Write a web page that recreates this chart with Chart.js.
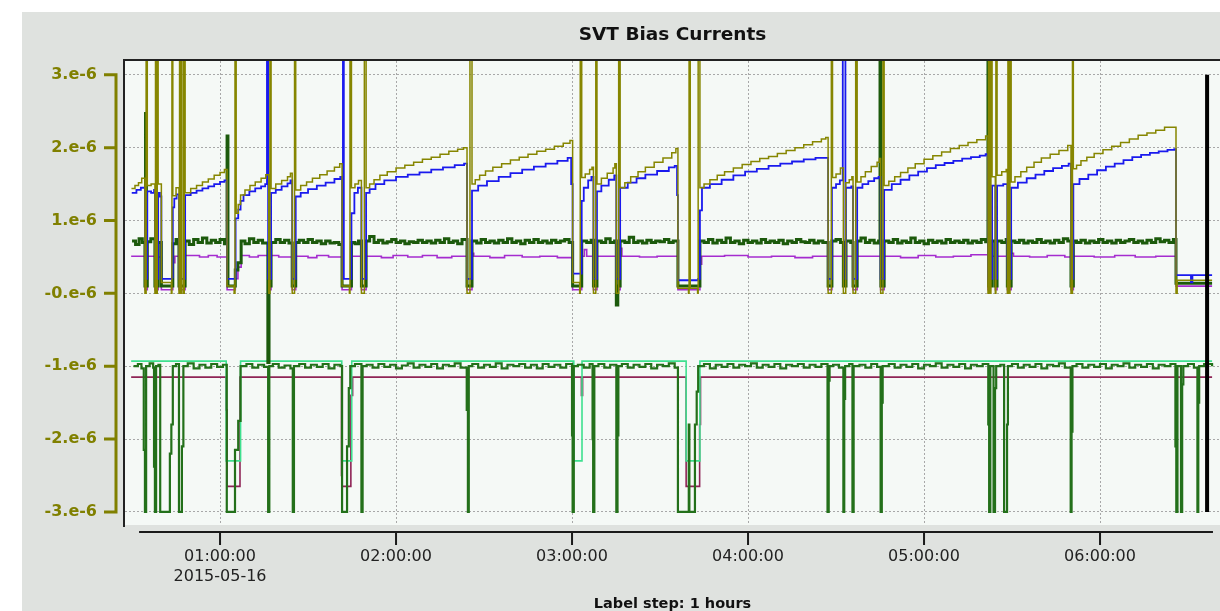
<!DOCTYPE html>
<html lang="en">
<head>
    <meta charset="UTF-8">
    <title>SVT Bias Currents</title>
    <script src="https://cdn.jsdelivr.net/npm/chart.js"></script>
    <style>
        body { margin: 0; background: #fff; }
        #panel { position: absolute; left: 22px; top: 12px; width: 1198px; height: 599px; background: #dfe2df; }
        canvas { display: block; }
    </style>
</head>
<body>
    <div id="panel"><canvas id="biasChart" width="1198" height="599"></canvas></div>

    <script>
        // time in minutes after 00:00 on 2015-05-16, current in units of 1e-6
        const xTickVals = [60, 120, 180, 240, 300, 360];
        const xTickLabels = [['01:00:00', '2015-05-16'], '02:00:00', '03:00:00', '04:00:00', '05:00:00', '06:00:00'];
        const yTickVals = [3, 2, 1, 0, -1, -2, -3];
        const yTickLabels = ['3.e-6', '2.e-6', '1.e-6', '-0.e-6', '-1.e-6', '-2.e-6', '-3.e-6'];
        const xMin = 27.6, xMax = 400.9, yMin = -3.18, yMax = 3.19;
        const xAxisFrom = 32.4, xAxisTo = 398.5;

        const oliveSeries = [
            [29.8,1.44],[31.0,1.48],[32.2,1.52],[33.3,1.58],
            [34.4,0.0],[34.8,5.0],[35.2,1.48],[36.5,1.5],
            [37.8,0.0],[38.0,5.0],[38.4,0.0],[38.6,5.0],[38.9,1.5],
            [40.0,0.15],[43.4,0.0],[43.6,5.0],[43.9,1.34],[45.0,1.45],
            [46.0,0.0],[46.2,5.0],[46.7,0.0],[46.9,5.0],[47.5,0.0],[47.8,5.0],[48.1,1.38],
            [50,1.44],[52,1.48],[54,1.53],[56,1.57],[58,1.62],[60,1.66],[61.5,1.7],
            [62.4,0.1],[64.8,0.0],[65.1,5.0],[65.5,1.1],[66.2,1.22],[67.0,1.35],[68.5,1.42],[70.2,1.48],[72.0,1.53],[74.0,1.58],[75.6,1.63],
            [76.6,0.0],[77.0,5.0],[77.4,1.44],[79,1.5],[81,1.55],[83,1.6],[84.0,1.65],
            [84.6,0.0],[85.4,5.0],[85.8,1.42],[87.5,1.48],[89.5,1.53],[91.5,1.58],[94,1.63],[96.5,1.68],[99,1.73],[100.8,1.78],
            [101.6,0.1],[104.1,0.0],[104.3,5.0],[104.8,1.45],[106.0,1.5],[107.2,1.55],
            [108.2,0.0],[109.2,5.0],[109.8,1.45],[111,1.5],[112.5,1.56],[114.5,1.62],[117,1.67],[120,1.72],[123,1.76],[126,1.8],[129,1.84],[132,1.87],[135,1.91],[138,1.95],[141,1.98],[143,2.0],
            [144.2,0.0],[145.2,5.0],[145.9,1.5],[147,1.56],[148.5,1.62],[150.5,1.68],[153,1.73],[156,1.78],[159,1.83],[162,1.87],[165,1.91],[168,1.95],[171,1.98],[174,2.02],[177,2.06],[179.3,2.1],
            [180.2,0.15],[182.6,0.0],[182.8,5.0],[183.3,1.59],[184.5,1.64],[186,1.7],[186.8,1.73],
            [187.3,0.0],[188.1,5.0],[188.5,1.5],[190,1.58],[192,1.65],[194,1.72],[194.6,1.78],
            [195.1,0.0],[195.9,5.0],[196.4,1.45],[198,1.52],[200,1.6],[202.5,1.67],[205,1.73],[208,1.8],[211,1.86],[214,1.93],[215.4,1.99],
            [216.1,0.07],[219.7,0.0],[219.9,5.0],[220.3,0.07],[222.8,0.0],[223.0,5.0],[223.6,1.45],
            [225,1.5],[227,1.56],[229.5,1.62],[232,1.67],[235,1.72],[238,1.77],[241,1.81],[244,1.85],[247,1.88],[250,1.92],[253,1.96],[256,2.0],[259,2.04],[262,2.08],[265,2.12],[266.5,2.14],
            [267.3,0.0],[268.4,5.0],[268.8,1.59],[270,1.64],[271.5,1.72],
            [272.5,0.0],[273.3,1.52],[274.5,1.56],[275.4,1.6],
            [275.8,0.0],[276.7,5.0],[277.2,1.53],[278.5,1.6],[280,1.67],[282,1.74],[284,1.8],[284.8,1.85],
            [285.2,0.0],[286.0,5.0],[286.4,1.48],[288,1.54],[290,1.6],[292,1.66],[294.5,1.72],[297,1.78],[300,1.84],[303,1.89],[306,1.94],[309,1.99],[312,2.03],[315,2.07],[318,2.11],[321,2.16],
            [321.8,0.0],[322.0,5.0],[322.5,0.0],[322.8,5.0],[323.2,1.6],[324.3,0.0],[324.5,5.0],[324.9,1.62],[326.5,1.67],[328.0,1.7],
            [328.4,0.0],[328.6,5.0],[329.0,0.0],[329.3,5.0],[329.7,1.53],[331,1.6],[333,1.67],[335,1.73],[337.5,1.8],[340,1.86],[343,1.91],[346,1.96],[349,2.03],
            [350.1,0.0],[350.6,5.0],[350.9,1.71],[352,1.76],[353.5,1.82],[355.5,1.87],[358,1.92],[361,1.97],[364,2.02],[367,2.07],[370,2.12],[373,2.17],[376,2.2],[379,2.24],[382,2.28],
            [385.9,0.0],[386.3,0.18],[398.2,0.18]
        ];

        const blueSeries = [
            [29.9,1.38],[31.5,1.42],[33.0,1.45],
            [34.4,0.2],[35.2,1.4],[36.5,1.38],[37.5,1.42],
            [37.8,0.2],[38.9,1.38],[39.5,1.33],
            [40.0,0.2],[43.6,0.22],[43.9,1.18],[44.4,1.3],[45.2,1.36],
            [46.0,0.2],[48.1,1.35],[50,1.38],[52,1.41],[54,1.44],[56,1.47],[58,1.5],[60,1.53],[61.5,1.55],
            [62.4,0.2],[65.3,1.03],[66.2,1.15],[67.0,1.27],[68.0,1.35],[70,1.4],[72,1.44],[74,1.47],[75.4,1.5],
            [76.0,5.0],[76.4,0.2],[77.4,1.38],[79,1.42],[81,1.47],[83,1.51],[84.0,1.55],
            [84.6,0.2],[85.8,1.33],[87.5,1.38],[90,1.43],[93,1.48],[96,1.52],[99,1.57],[101.0,1.6],
            [101.6,0.2],[101.9,5.0],[102.2,0.2],[104.8,1.1],[105.8,1.38],[107.0,1.45],
            [108.2,0.2],[109.8,1.38],[111,1.43],[113,1.5],[116,1.55],[120,1.6],[124,1.63],[128,1.66],[132,1.7],[136,1.73],[140,1.76],[143.2,1.78],
            [144.2,0.2],[145.9,1.41],[148,1.48],[151,1.54],[155,1.6],[159,1.65],[163,1.7],[167,1.74],[171,1.78],[175,1.82],[178.5,1.86],[179.7,1.5],
            [180.2,0.27],[183.3,1.27],[184,1.45],[185.5,1.55],[186.6,1.6],
            [187.3,0.2],[188.5,1.4],[190,1.48],[192.5,1.56],[194.4,1.62],
            [195.1,0.2],[196.4,1.45],[199,1.52],[202,1.58],[205,1.63],[209,1.68],[213,1.73],[215.0,1.75],[215.8,1.35],
            [216.1,0.18],[223.0,0.2],[223.6,1.14],[224.3,1.45],[227,1.5],[231,1.56],[235,1.62],[239,1.67],[243,1.71],[247,1.75],[251,1.78],[255,1.81],[259,1.84],[263,1.86],[266.5,1.86],
            [267.3,0.2],[268.6,1.45],[270,1.5],[271.3,1.55],
            [272.3,5.0],[273.2,0.2],[273.4,1.45],[275.2,1.47],
            [275.8,0.2],[277.2,1.45],[279,1.5],[281,1.54],[283,1.58],[284.5,1.6],
            [285.2,0.2],[286.4,1.42],[289,1.5],[292,1.56],[295,1.62],[298,1.67],[301,1.72],[304,1.76],[307,1.79],[310,1.82],[313,1.85],[316,1.87],[319,1.89],[321.0,1.91],
            [321.8,0.2],[323.2,1.48],[324.3,0.2],[324.9,1.48],[327,1.5],[328.0,1.5],
            [328.4,0.2],[329.7,1.45],[332,1.52],[335,1.58],[338,1.63],[341,1.68],[344,1.72],[347,1.75],[349.3,1.78],
            [350.1,0.2],[350.9,1.5],[353,1.57],[356,1.63],[359,1.69],[362,1.74],[365,1.78],[368,1.83],[371,1.87],[374,1.9],[377,1.93],[380,1.95],[383,1.97],[385.3,1.98],
            [385.9,0.25],[390,0.25],[391,0.15],[391.5,0.25],[398.2,0.25]
        ];

        const darkGreenSeries = [
            [30.0,0.72],[31.2,0.67],[32.4,0.75],[33.5,0.7],
            [34.4,0.1],[34.6,2.47],[34.9,0.1],[35.2,0.71],[36.4,0.75],
            [37.8,0.1],[38.9,0.7],[40.0,0.1],[43.9,0.68],[45.0,0.74],[46.0,0.1],[48.1,0.72],
            [49.5,0.67],[51,0.74],[52.5,0.7],[54,0.76],[55.5,0.69],[57,0.73],[58.5,0.7],[60,0.74],[61.5,0.68],
            [62.4,2.16],[62.7,0.1],[65.2,0.32],[66.1,0.42],[67.2,0.72],
            [68.5,0.68],[70,0.75],[71.5,0.7],[73,0.73],[74.5,0.69],
            [76.3,-0.95],[76.7,0.1],[77.4,0.7],[79,0.74],[80.5,0.7],[82,0.73],[83.5,0.69],
            [84.6,0.1],[85.8,0.7],[87,0.73],[88.5,0.7],[90,0.74],[91.5,0.7],[93,0.72],[94.5,0.68],[96,0.72],[97.5,0.69],[99,0.7],[100.5,0.67],
            [101.6,0.1],[104.8,0.7],[106,0.68],[107.2,0.72],
            [108.2,0.1],[109.8,0.72],[111,0.78],[112.5,0.7],[114,0.73],[115.5,0.69],[117,0.71],[118.5,0.74],[120,0.7],[121.5,0.72],[123,0.68],[124.5,0.71],[126,0.7],
            [127.5,0.73],[129,0.7],[130.5,0.72],[132,0.69],[133.5,0.73],[135,0.7],[136.5,0.75],[138,0.7],[139.5,0.72],[141,0.68],[142.5,0.74],
            [144.2,0.1],[145.9,0.72],[147.5,0.69],[149,0.74],[150.5,0.7],[152,0.72],[153.5,0.69],[155,0.73],[156.5,0.7],[158,0.75],[159.5,0.7],[161,0.72],
            [162.5,0.68],[164,0.73],[165.5,0.7],[167,0.74],[168.5,0.7],[170,0.72],[171.5,0.69],[173,0.73],[174.5,0.7],[176,0.72],[177.5,0.74],[179,0.7],
            [180.2,0.1],[183.3,0.72],[185,0.7],[186.5,0.73],
            [187.3,0.1],[188.5,0.72],[190,0.7],[191.5,0.75],[193,0.7],[194.5,0.72],
            [195.1,-0.16],[195.6,0.1],[196.4,0.72],[198,0.7],[199.5,0.77],[201,0.7],[202.5,0.72],[204,0.69],[205.5,0.73],[207,0.7],[208.5,0.72],[210,0.71],[211.5,0.74],[213,0.7],[214.5,0.72],
            [216.1,0.1],[223.6,0.72],[225,0.7],[226.5,0.74],[228,0.69],[229.5,0.73],[231,0.7],[232.5,0.76],[234,0.7],[235.5,0.72],[237,0.68],[238.5,0.73],[240,0.7],[241.5,0.72],
            [243,0.69],[244.5,0.74],[246,0.7],[247.5,0.72],[249,0.7],[250.5,0.73],[252,0.68],[253.5,0.72],[255,0.7],[256.5,0.74],[258,0.71],[259.5,0.7],[261,0.73],[262.5,0.69],[264,0.72],[265.5,0.7],
            [267.3,0.1],[268.6,0.72],[270,0.74],[271.5,0.7],
            [272.5,0.1],[273.4,0.72],[275,0.7],
            [275.8,0.1],[277.2,0.72],[278.5,0.76],[280,0.7],[281.5,0.73],[283,0.69],[284.5,0.72],
            [285.0,5.0],[285.3,0.1],[286.4,0.72],[288,0.7],[289.5,0.74],[291,0.69],[292.5,0.72],[294,0.7],[295.5,0.76],[297,0.7],[298.5,0.72],[300,0.68],[301.5,0.73],[303,0.7],[304.5,0.72],
            [306,0.69],[307.5,0.74],[309,0.7],[310.5,0.72],[312,0.7],[313.5,0.73],[315,0.69],[316.5,0.72],[318,0.7],[319.5,0.74],[321,0.71],
            [321.8,5.0],[322.1,0.1],[323.2,0.72],[324.3,0.1],[324.9,0.72],[326.5,0.7],[328,0.74],
            [328.4,0.1],[329.7,0.72],[331,0.7],[332.5,0.73],[334,0.69],[335.5,0.72],[337,0.7],[338.5,0.74],[340,0.7],[341.5,0.72],[343,0.69],[344.5,0.73],[346,0.7],[347.5,0.75],[349,0.72],
            [350.1,0.1],[350.9,0.72],[352,0.7],[353.5,0.73],[355,0.69],[356.5,0.72],[358,0.7],[359.5,0.74],[361,0.7],[362.5,0.72],[364,0.69],[365.5,0.73],[367,0.7],[368.5,0.72],
            [370,0.74],[371.5,0.7],[373,0.72],[374.5,0.69],[376,0.73],[377.5,0.7],[379,0.75],[380.5,0.71],[382,0.73],[383.5,0.7],[385,0.74],
            [385.9,0.14],[398.2,0.14]
        ];

        const purpleSeries = [
            [29.7,0.51],[34.4,0.05],[35.2,0.51],[37.8,0.05],[38.9,0.5],[40.0,0.05],[43.9,0.42],[44.6,0.51],[46.0,0.05],[48.1,0.52],[53,0.5],[56,0.52],[59,0.5],
            [62.4,0.05],[65.2,0.2],[66.1,0.36],[67.2,0.52],[70,0.5],[73,0.52],[76.4,0.05],[77.4,0.52],[80,0.5],[84.6,0.05],[85.8,0.51],[90,0.49],[93,0.52],[97,0.5],
            [101.6,0.05],[104.8,0.51],[108.2,0.05],[109.8,0.51],[115,0.49],[119,0.52],[124,0.5],[129,0.52],[134,0.49],[139,0.51],
            [144.2,0.05],[145.9,0.55],[146.5,0.51],[152,0.49],[157,0.52],[163,0.5],[169,0.51],[175,0.49],
            [180.2,0.05],[183.3,0.51],[184.2,0.6],[185,0.51],[187.3,0.05],[188.5,0.51],[195.1,0.05],[196.4,0.62],[197,0.51],[203,0.5],[209,0.51],
            [216.1,0.05],[223.6,0.4],[224.2,0.51],[232,0.52],[240,0.5],[248,0.51],[256,0.49],[262,0.51],
            [267.3,0.05],[268.6,0.51],[272.5,0.3],[273.4,0.51],[275.8,0.05],[277.2,0.51],[285.2,0.05],[286.4,0.51],[292,0.49],[298,0.52],[304,0.5],[310,0.51],[316,0.53],
            [321.8,0.05],[322.6,0.6],[323.2,0.51],[324.3,0.05],[324.9,0.51],[328.4,0.05],[329.7,0.55],[330.5,0.51],[336,0.5],[342,0.52],[348,0.5],
            [350.1,0.05],[350.9,0.51],[358,0.5],[365,0.52],[372,0.5],[379,0.51],[385.9,0.1],[398.2,0.1]
        ];

        const lowGreenSeries = [
            [30.5,-1.0],[32,-0.97],[33.2,-1.03],[34.0,-2.15],[34.4,-3.0],[34.8,-1.0],[36,-0.96],[37.2,-1.02],[37.5,-2.38],[37.8,-3.0],[38.2,-1.0],[39.0,-0.98],
            [39.6,-3.0],[42.9,-2.2],[43.4,-1.8],[43.9,-1.0],[45,-0.97],[46.0,-3.0],[47.0,-2.1],[47.5,-1.0],
            [49,-0.96],[51,-1.03],[53,-0.98],[55,-1.02],[57,-0.97],[59,-1.01],[61,-0.98],
            [62.3,-3.0],[65.1,-2.15],[66.2,-1.75],[67.0,-1.0],[69,-0.97],[71,-1.02],[73,-0.98],[75,-1.01],
            [76.4,-3.0],[76.8,-1.0],[78,-0.97],[80,-1.02],[82,-0.99],[84,-1.03],[84.8,-3.0],[85.2,-1.0],
            [87,-0.97],[89,-1.02],[91,-0.98],[93,-1.01],[95,-0.97],[97,-1.03],[99,-0.98],[101,-1.0],
            [101.6,-3.0],[103.3,-2.1],[103.9,-1.3],[104.4,-1.0],[106,-0.97],[108.2,-3.0],[108.6,-1.0],
            [110,-0.98],[112,-1.02],[114,-0.97],[116,-1.01],[118,-0.98],[120,-1.03],[122,-0.99],[124,-0.96],[126,-1.02],[128,-0.98],[130,-1.01],[132,-0.97],
            [134,-1.03],[136,-0.98],[138,-1.0],[140,-0.96],[142,-1.02],[144.1,-1.6],[144.5,-3.0],[144.8,-1.0],
            [146,-0.97],[148,-1.02],[150,-0.98],[152,-1.01],[154,-0.96],[156,-1.03],[158,-0.98],[160,-1.0],[162,-0.97],[164,-1.02],[166,-0.98],[168,-1.03],
            [170,-0.97],[172,-1.01],[174,-0.98],[176,-1.02],[178,-0.97],[180.0,-1.95],[180.2,-3.0],[180.6,-1.0],
            [182,-0.98],[184,-1.02],[186,-0.97],[187.0,-2.0],[187.2,-3.0],[187.6,-1.0],[189,-0.97],[191,-1.02],[193,-0.98],
            [195.1,-3.0],[195.5,-1.95],[195.8,-1.0],[197,-0.97],[199,-1.02],[201,-0.98],[203,-1.01],[205,-0.97],[207,-1.03],[209,-0.98],[211,-1.0],[213,-0.96],[215,-1.02],
            [216.1,-3.0],[219.8,-1.8],[220.0,-3.0],[221.9,-1.8],[222.5,-1.35],[223.0,-1.0],
            [225,-0.97],[227,-1.03],[229,-0.98],[231,-1.01],[233,-0.97],[235,-1.02],[237,-0.98],[239,-1.0],[241,-0.96],[243,-1.02],[245,-0.98],[247,-1.01],
            [249,-0.97],[251,-1.03],[253,-0.98],[255,-1.0],[257,-0.97],[259,-1.02],[261,-0.98],[263,-1.01],[265,-0.97],
            [267.1,-3.0],[267.5,-1.2],[267.8,-1.0],[269,-0.98],[271,-1.02],[272.5,-3.0],[272.8,-1.45],[273.1,-1.0],[274.5,-0.97],[275.6,-3.0],[276.0,-1.0],
            [278,-0.98],[280,-1.02],[282,-0.97],[284,-1.01],[285.2,-3.0],[285.6,-1.5],[285.9,-1.0],
            [288,-0.97],[290,-1.02],[292,-0.98],[294,-1.01],[296,-0.97],[298,-1.03],[300,-0.98],[302,-1.0],[304,-0.96],[306,-1.02],[308,-0.98],[310,-1.01],
            [312,-0.97],[314,-1.03],[316,-0.98],[318,-1.0],[320,-0.97],
            [321.9,-1.8],[322.2,-3.0],[322.6,-1.0],[323.7,-3.0],[324.2,-1.3],[324.6,-1.0],[326,-0.98],[327.3,-3.0],[328.3,-1.8],[328.6,-1.0],
            [330,-0.97],[332,-1.02],[334,-0.98],[336,-1.01],[338,-0.97],[340,-1.03],[342,-0.98],[344,-1.0],[346,-0.96],[348,-1.02],
            [350.0,-3.0],[350.3,-1.9],[350.6,-1.0],
            [352,-0.97],[354,-1.02],[356,-0.98],[358,-1.01],[360,-0.97],[362,-1.03],[364,-0.98],[366,-1.0],[368,-0.96],[370,-1.02],[372,-0.98],[374,-1.01],
            [376,-0.97],[378,-1.03],[380,-0.98],[382,-1.0],[384,-0.97],
            [385.7,-2.1],[386.0,-3.0],[386.4,-1.0],[387.6,-3.0],[388.0,-1.25],[388.4,-1.0],[390,-0.97],[392,-1.02],
            [393.2,-3.0],[393.5,-1.5],[393.8,-1.0],[395.5,-0.97],[398.2,-1.0]
        ];

        const tealSeries = [
            [29.7,-0.93],[62.1,-2.3],[67.0,-0.93],[101.5,-2.3],[104.9,-0.93],[180.6,-2.3],[183.4,-0.93],[218.9,-2.3],[223.6,-0.93],[398.2,-0.93]
        ];

        const maroonSeries = [
            [29.7,-1.15],[62.1,-1.6],[62.4,-2.65],[66.8,-1.15],[101.4,-2.5],[101.6,-2.65],[104.6,-1.4],[105.2,-1.15],
            [183.2,-1.4],[183.6,-1.15],[218.9,-2.65],[223.5,-1.8],[223.8,-1.15],[398.2,-1.15]
        ];

        const cursorSeries = [[396.5,3.0],[396.5,-3.0]];

        function toPoints(arr) {
            return arr.map(p => ({ x: p[0], y: p[1] }));
        }

        function stepLine(arr, color, width) {
            return {
                data: toPoints(arr),
                borderColor: color,
                borderWidth: width,
                pointRadius: 0,
                stepped: true,
                fill: false
            };
        }

        // plot background, frame and the two detached axes
        const framePlugin = {
            id: 'frame',
            beforeDraw(chart) {
                const { ctx, chartArea: a } = chart;
                ctx.save();
                ctx.fillStyle = '#f5f9f6';
                ctx.fillRect(a.left, a.top, a.right - a.left, a.bottom - a.top);
                ctx.restore();
            },
            afterDraw(chart) {
                const { ctx, chartArea: a, scales: { x, y } } = chart;
                ctx.save();
                ctx.strokeStyle = '#222';
                ctx.lineWidth = 2;
                ctx.beginPath();
                ctx.moveTo(a.left - 1, a.bottom + 2);
                ctx.lineTo(a.left - 1, a.top - 1);
                ctx.lineTo(a.right, a.top - 1);
                ctx.stroke();

                const ax = a.left - 9;
                const yTop = y.getPixelForValue(yTickVals[0]);
                const yBot = y.getPixelForValue(yTickVals[yTickVals.length - 1]);
                ctx.strokeStyle = '#808000';
                ctx.lineWidth = 3;
                ctx.beginPath();
                ctx.moveTo(ax, yTop - 1.5);
                ctx.lineTo(ax, yBot + 1.5);
                yTickVals.forEach(v => {
                    const py = y.getPixelForValue(v);
                    ctx.moveTo(ax - 12, py);
                    ctx.lineTo(ax, py);
                });
                ctx.stroke();

                const by = a.bottom + 7;
                ctx.strokeStyle = '#1a1a1a';
                ctx.lineWidth = 2;
                ctx.beginPath();
                ctx.moveTo(x.getPixelForValue(xAxisFrom), by);
                ctx.lineTo(x.getPixelForValue(xAxisTo), by);
                xTickVals.forEach(v => {
                    const px = x.getPixelForValue(v);
                    ctx.moveTo(px, by);
                    ctx.lineTo(px, by + 13);
                });
                ctx.stroke();
                ctx.restore();
            }
        };

        const ctx = document.getElementById('biasChart').getContext('2d');
        new Chart(ctx, {
            type: 'line',
            data: {
                datasets: [
                    { ...stepLine(cursorSeries, '#000000', 4), stepped: false },
                    stepLine(oliveSeries, '#868600', 1.5),
                    stepLine(blueSeries, '#1a1aee', 1.8),
                    stepLine(darkGreenSeries, '#1c5a0c', 3),
                    stepLine(purpleSeries, '#a52ccf', 1.6),
                    stepLine(lowGreenSeries, '#23701a', 2.2),
                    stepLine(tealSeries, '#3ee08f', 1.6),
                    stepLine(maroonSeries, '#8e2456', 1.6)
                ]
            },
            options: {
                responsive: false,
                animation: false,
                devicePixelRatio: 1,
                layout: { padding: 0 },
                plugins: {
                    legend: { display: false },
                    tooltip: { enabled: false },
                    title: {
                        display: true,
                        text: 'SVT Bias Currents',
                        fullSize: false,
                        color: '#111',
                        font: { family: 'DejaVu Sans', size: 18.5, weight: 'bold' },
                        padding: { top: 12.5, bottom: 14.3 }
                    }
                },
                scales: {
                    x: {
                        type: 'linear',
                        min: xMin,
                        max: xMax,
                        afterBuildTicks: s => { s.ticks = xTickVals.map(v => ({ value: v })); },
                        afterFit: s => { s.height = 86; },
                        grid: { color: '#a8a8a8', drawTicks: false },
                        border: { display: false, dash: [2, 2] },
                        ticks: {
                            autoSkip: false,
                            maxRotation: 0,
                            padding: 21,
                            color: '#222',
                            font: { family: 'DejaVu Sans', size: 16, lineHeight: 1.3 },
                            callback: (v, i) => xTickLabels[i]
                        },
                        title: {
                            display: true,
                            text: 'Label step: 1 hours',
                            color: '#111',
                            font: { family: 'DejaVu Sans', size: 14.5, weight: 'bold' },
                            padding: { top: 0, bottom: -1.5 }
                        }
                    },
                    y: {
                        type: 'linear',
                        min: yMin,
                        max: yMax,
                        afterBuildTicks: s => { s.ticks = yTickVals.map(v => ({ value: v })); },
                        afterFit: s => { s.width = 103; },
                        grid: { color: '#a8a8a8', drawTicks: false },
                        border: { display: false, dash: [2, 2] },
                        ticks: {
                            padding: 28,
                            color: '#808000',
                            font: { family: 'DejaVu Sans', size: 16, weight: 'bold' },
                            callback: (v, i) => yTickLabels[i]
                        }
                    }
                }
            },
            plugins: [framePlugin]
        });
    </script>
</body>
</html>
